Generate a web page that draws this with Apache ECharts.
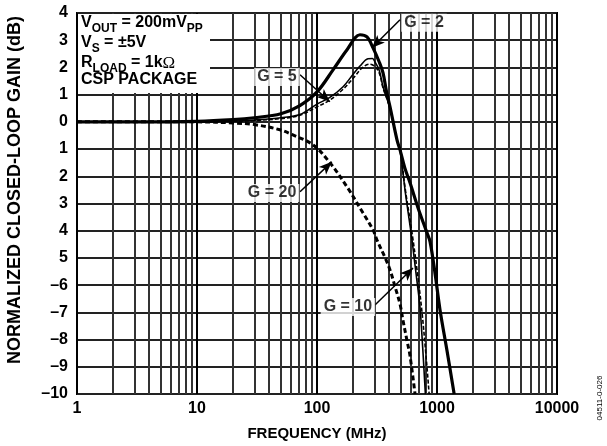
<!DOCTYPE html>
<html><head><meta charset="utf-8">
<script src="https://cdn.jsdelivr.net/npm/echarts@6/dist/echarts.min.js"></script>
<style>html,body{margin:0;padding:0;background:#fff}#c{width:607px;height:446px}</style>
</head><body><div id="c"></div>
<script>
const FONT = "'Liberation Sans', Arial, Helvetica, sans-serif";

// ---- axes / ticks ----
const xTickLabels = ['1', '10', '100', '1000', '10000'];
const yTickValues = [-10, -9, -8, -7, -6, -5, -4, -3, -2, -1, 0, 1, 2, 3, 4];
const yTickLabels = ['–10', '–9', '–8', '–7', '–6', '5', '4', '3', '2', '1', '0', '1', '2', '3', '4'];
const minorFreqs = [2, 3, 4, 5, 6, 7, 8, 9, 20, 30, 40, 50, 60, 70, 80, 90,
  200, 300, 400, 500, 600, 700, 800, 900, 2000, 3000, 4000, 5000, 6000, 7000, 8000, 9000];

// ---- series (frequency MHz, normalized gain dB) ----
const g2Freq = [1, 3, 10, 20, 30, 50, 72, 100, 136, 178, 228, 261, 293, 330, 355, 380, 406, 464, 492, 540, 596, 700, 826, 875, 962, 1059, 1211, 1390];
const g2Gain = [0, 0, 0.02, 0.08, 0.15, 0.3, 0.6, 1.1, 1.91, 2.65, 3.2, 3.12, 2.72, 2.2, 1.8, 1.1, 0.55, -0.66, -1.03, -1.7, -2.24, -3.2, -4.08, -4.4, -5.55, -6.9, -8.4, -10];

const g5Freq = [1, 10, 20, 30, 50, 72, 100, 128, 165, 200, 228, 266, 290, 304, 330, 355, 406, 464, 492, 545, 600, 619, 670, 721, 760, 800];
const g5Gain = [0, 0, 0.03, 0.07, 0.15, 0.27, 0.65, 0.9, 1.29, 1.75, 2.05, 2.32, 2.33, 2.2, 1.9, 1.29, 0.5, -0.66, -1.03, -2.6, -3.9, -4.34, -5.6, -6.8, -8.3, -10];

const g10Freq = [1, 10, 20, 30, 50, 72, 100, 128, 165, 200, 240, 275, 300, 330, 355, 406, 464, 492, 545, 620, 680, 750, 810, 860];
const g10Gain = [0, 0, 0.02, 0.05, 0.12, 0.24, 0.55, 0.8, 1.2, 1.6, 2.0, 2.12, 2.05, 1.8, 1.25, 0.5, -0.66, -1.03, -2.5, -4.1, -5.4, -7.0, -8.6, -10];

const g20Freq = [1, 10, 20, 30, 49, 63, 93, 128, 178, 242, 293, 316, 370, 406, 450, 492, 521, 560, 596, 656];
const g20Gain = [0, 0, -0.04, -0.1, -0.29, -0.48, -0.85, -1.5, -2.39, -3.35, -3.97, -4.34, -5.0, -5.44, -6.1, -6.7, -7.3, -8.0, -8.6, -10];

// ---- annotations (data coordinates) ----
const annotLabels = ['G = 2', 'G = 5', 'G = 20', 'G = 10'];
const annotLabelAt = [[779, 3.64], [46.4, 1.65], [42.2, -2.61], [181, -6.8]];
const annotArrowFrom = [[492, 3.75], [72.2, 1.73], [72.2, -2.57], [304, -6.73]];
const annotArrowTo = [[287, 2.72], [128, 0.74], [133, -1.47], [631, -5.37]];

const zip = (a, b) => a.map((v, i) => [v, b[i]]);

const chart = echarts.init(document.getElementById('c'), null, {renderer: 'canvas'});

const curveBase = {type: 'line', showSymbol: false, symbol: 'none', smooth: 0.35, z: 3, silent: true, animation: false};

function richStyles() {
  return {
    m: {fontFamily: FONT, fontWeight: 'bold', fontSize: 16, lineHeight: 16, verticalAlign: 'top', fill: '#000'},
    s: {fontFamily: FONT, fontWeight: 'bold', fontSize: 12, lineHeight: 12, padding: [8, 0, 0, 0], verticalAlign: 'top', fill: '#000'},
    o: {fontFamily: "'Liberation Serif', 'Times New Roman', serif", fontWeight: 'normal', fontSize: 17, lineHeight: 16, verticalAlign: 'top', fill: '#000'}
  };
}

chart.setOption({
  animation: false,
  backgroundColor: '#fff',
  textStyle: {fontFamily: FONT},
  grid: {left: 77, right: 50, top: 13, bottom: 52, show: true, borderColor: '#000', borderWidth: 2, backgroundColor: 'transparent'},
  xAxis: {
    type: 'log', logBase: 10, min: 1, max: 10000,
    name: 'FREQUENCY (MHz)', nameLocation: 'middle', nameGap: 32,
    nameTextStyle: {fontFamily: FONT, fontWeight: 'bold', fontSize: 15, color: '#000'},
    axisLine: {show: false}, axisTick: {show: false},
    axisLabel: {fontFamily: FONT, fontWeight: 'bold', fontSize: 16, color: '#000', margin: 7,
      formatter: v => xTickLabels[Math.round(Math.log10(v))]},
    splitLine: {show: true, lineStyle: {color: '#000', width: 2}}
  },
  yAxis: {
    type: 'value', min: -10, max: 4, interval: 1,
    axisLine: {show: false}, axisTick: {show: false},
    axisLabel: {fontFamily: FONT, fontWeight: 'bold', fontSize: 16, color: '#000', margin: 9,
      formatter: v => yTickLabels[yTickValues.indexOf(Math.round(v))]},
    splitLine: {show: true, lineStyle: {color: '#222', width: 2}}
  },
  series: [
    {
      type: 'line', data: [], silent: true, z: 1,
      markLine: {silent: true, z: 1, symbol: ['none', 'none'], animation: false,
        label: {show: false}, lineStyle: {color: '#333', width: 2, type: 'solid'},
        data: minorFreqs.map(f => ({xAxis: f}))}
    },
    Object.assign({}, curveBase, {name: 'G = 2', data: zip(g2Freq, g2Gain), lineStyle: {color: '#000', width: 3.2}}),
    Object.assign({}, curveBase, {name: 'G = 5', data: zip(g5Freq, g5Gain), lineStyle: {color: '#000', width: 1.6}}),
    Object.assign({}, curveBase, {name: 'G = 10', data: zip(g10Freq, g10Gain), lineStyle: {color: '#000', width: 1.6, type: [4, 2]}}),
    Object.assign({}, curveBase, {name: 'G = 20', data: zip(g20Freq, g20Gain), lineStyle: {color: '#000', width: 3, type: [5, 3]}}),
    {
      type: 'line', data: [], silent: true, z: 8,
      markLine: {silent: true, z: 8, animation: false, symbol: ['none', 'arrow'], symbolSize: [8, 13],
        label: {show: false}, lineStyle: {color: '#000', width: 1.5, type: 'solid'},
        data: annotArrowFrom.map((p, i) => [{coord: p}, {coord: annotArrowTo[i]}])}
    },
    {
      type: 'scatter', z: 10, silent: true, symbolSize: 0,
      data: annotLabelAt.map((p, i) => ({name: annotLabels[i], value: p})),
      label: {show: true, position: 'inside', formatter: p => p.name,
        fontFamily: FONT, fontWeight: 'bold', fontSize: 16, color: '#000',
        backgroundColor: '#fff', padding: [1, 3]}
    }
  ],
  graphic: [
    {type: 'rect', z: 2, silent: true, shape: {x: 78, y: 14, width: 132, height: 79}, style: {fill: '#fff'}},
    {type: 'text', z: 12, silent: true, x: 81, y: 15, style: {
      text: '{m|V}{s|OUT}{m| = 200mV}{s|PP}', verticalAlign: 'top', align: 'left', rich: richStyles()}},
    {type: 'text', z: 12, silent: true, x: 81, y: 35, style: {
      text: '{m|V}{s|S}{m| = ±5V}', verticalAlign: 'top', align: 'left', rich: richStyles()}},
    {type: 'text', z: 12, silent: true, x: 81, y: 55, style: {
      text: '{m|R}{s|LOAD}{m| = 1k}{o|Ω}', verticalAlign: 'top', align: 'left', rich: richStyles()}},
    {type: 'text', z: 12, silent: true, x: 81, y: 72, style: {
      text: '{m|CSP PACKAGE}', verticalAlign: 'top', align: 'left', rich: richStyles()}},
    {type: 'text', z: 12, silent: true, x: 15, y: 190, rotation: Math.PI / 2, style: {
      text: 'NORMALIZED CLOSED-LOOP GAIN (dB)', font: 'bold 18px ' + FONT, fill: '#000',
      align: 'center', verticalAlign: 'middle'}},
    {type: 'text', z: 12, silent: true, x: 600, y: 398, rotation: Math.PI / 2, style: {
      text: '04511-0-026', font: '8px ' + FONT, fill: '#000', align: 'center', verticalAlign: 'middle'}}
  ]
});
</script>
</body></html>
